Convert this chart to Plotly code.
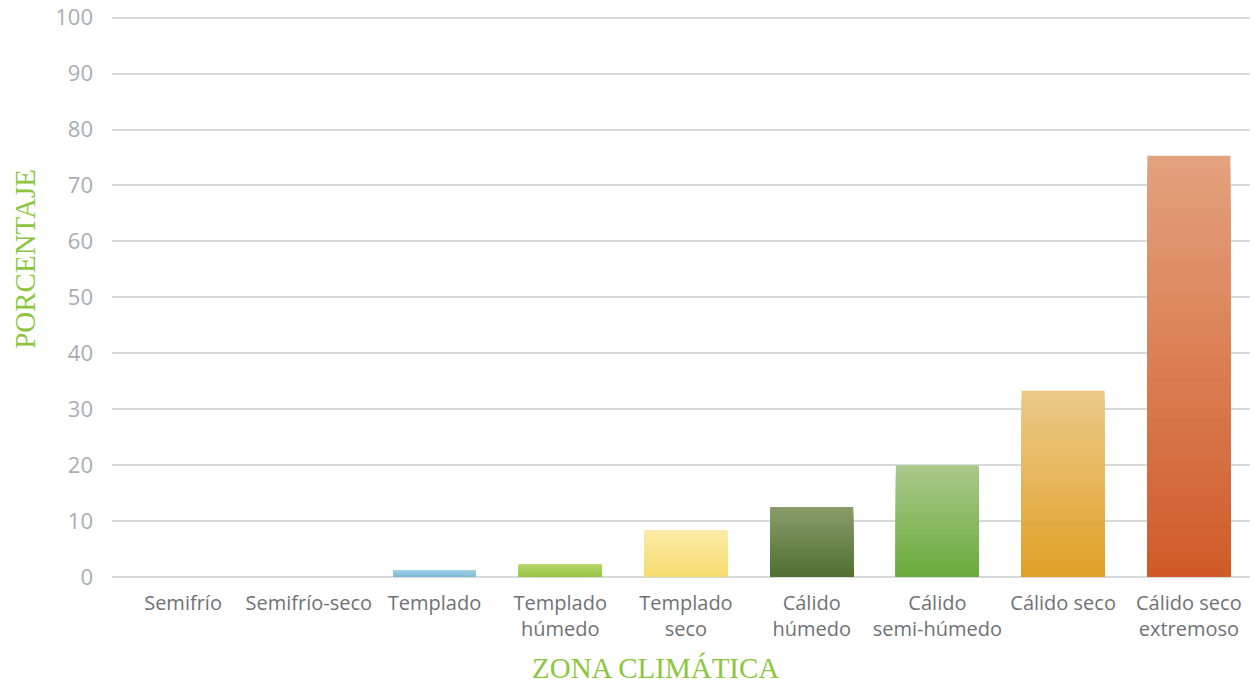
import plotly.graph_objects as go

# zonas climaticas y porcentajes
zonas = ["Semifrío", "Semifrío-seco", "Templado", "Templado<br>húmedo", "Templado<br>seco",
         "Cálido<br>húmedo", "Cálido<br>semi-húmedo", "Cálido seco", "Cálido seco<br>extremoso"]
porcentaje = [0, 0, 1.2, 2.3, 8.4, 12.5, 20.0, 33.3, 75.3]

# color arriba / abajo de cada barra (degradado)
color_arriba = ["#9fd0e6", "#9fd0e6", "#9fd0e6", "#b4d66a", "#fbeba8", "#8a9c6c", "#a9c98b", "#ecca8a", "#e4a27e"]
color_abajo = ["#7fbcd9", "#7fbcd9", "#7fbcd9", "#97c443", "#f5dc6e", "#4f7030", "#6aab3b", "#e0a026", "#d05a28"]

verde = "#8cc63f"
N = 40


def mezcla(c1, c2, t):
    a = [int(c1[i:i + 2], 16) for i in (1, 3, 5)]
    b = [int(c2[i:i + 2], 16) for i in (1, 3, 5)]
    return "rgb(%d,%d,%d)" % tuple(round(a[j] + (b[j] - a[j]) * t) for j in range(3))


def main():
    fig = go.Figure()
    # barras superpuestas: la mas alta primero, cada una tapa la parte baja
    for k in range(N):
        f = (N - k) / N
        t = (N - k - 0.5) / N
        fig.add_trace(go.Bar(
            x=zonas,
            y=[v * f for v in porcentaje],
            width=0.66,
            marker=dict(color=[mezcla(color_abajo[i], color_arriba[i], t) for i in range(len(zonas))],
                        line=dict(width=0)),
            hoverinfo="skip" if k else "x+y",
            showlegend=False,
        ))

    fig.update_layout(
        width=1258, height=686,
        barmode="overlay",
        paper_bgcolor="white", plot_bgcolor="white",
        margin=dict(l=104, r=8, t=8, b=117, autoexpand=False),
        font=dict(family="Open Sans", color="#6f7275"),
        xaxis=dict(range=[-0.565, 8.55], showgrid=False, zeroline=False, showline=False,
                   ticks="", tickfont=dict(size=20, color="#6f7275"), ticklabelstandoff=12,
                   automargin=False),
        yaxis=dict(range=[0, 100.3], dtick=10, showgrid=True, gridcolor="#d7dadd", gridwidth=2,
                   zeroline=True, zerolinecolor="#d7dadd", zerolinewidth=2, showline=False,
                   ticks="", tickfont=dict(size=22, color="#a9adb2"), ticklabelstandoff=18,
                   ticklabeloverflow="allow", automargin=False),
        annotations=[
            dict(text="PORCENTAJE", xref="paper", yref="paper", x=-0.076, y=0.567,
                 xanchor="center", yanchor="middle", textangle=-90, showarrow=False,
                 font=dict(family="Liberation Serif", size=29, color=verde)),
            dict(text="ZONA CLIMÁTICA", xref="paper", yref="paper", x=0.474, y=-0.163,
                 xanchor="center", yanchor="middle", showarrow=False,
                 font=dict(family="Liberation Serif", size=29, color=verde)),
        ],
    )

    fig.write_html("out.html")


if __name__ == '__main__':
    main()
